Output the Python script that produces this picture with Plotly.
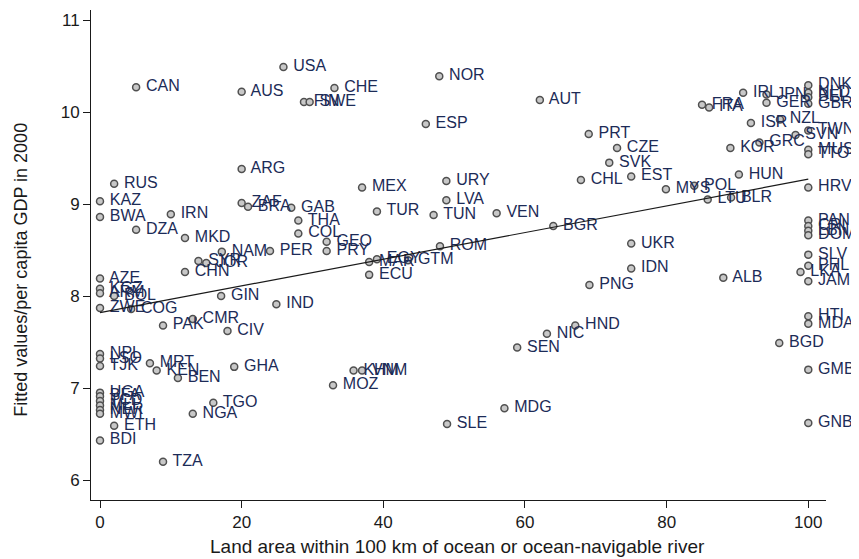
import plotly.graph_objects as go

codes = ["CAN","USA","AUS","CHE","FIN","SWE","NOR","ESP","AUT","ARG","RUS","KAZ","BWA","DZA","IRN","MKD",
         "ZAF","BRA","GAB","THA","COL","GEO","PRY","PER","NAM","SYR","JOR","CHN","MEX","URY","LVA","TUR",
         "TUN","VEN","BGR","ROM","MAR","EGY","GTM","ECU","AZE","KGZ","ARM","BOL","ZWE","COG","GIN","IND",
         "PAK","CMR","CIV","NPL","LSO","TJK","MRT","KEN","BEN","GHA","KHM","VNM","MOZ","TGO","NGA","UGA",
         "BFA","TCD","MLI","NER","MWI","ETH","BDI","TZA","SLE","MDG","SEN","NIC","HND","PNG","IDN","UKR",
         "PRT","CZE","SVK","EST","CHL","MYS","POL","LTU","BLR","HUN","HRV","KOR","GRC","ISR","NZL","SVN",
         "TWN","MUS","TTO","FRA","ITA","IRL","JPN","GER","DNK","NLD","BEL","GBR","PAN","CRI","LBN","DOM",
         "SLV","PHL","LKA","JAM","ALB","HTI","MDA","BGD","GMB","GNB"]

land_area = [5.1,25.9,20.0,33.1,28.8,29.6,47.9,46.0,62.1,20.0,2.0,0,0,5.1,10.0,12.0,
             20.0,20.9,27.0,28.0,28.0,32.0,32.0,24.0,17.2,13.9,15.0,12.0,37.0,48.9,48.9,39.1,
             47.1,56.0,64.0,48.0,38.0,39.1,43.5,38.0,0,0,0,2.0,0,4.4,17.1,24.9,
             8.9,13.1,18.0,0,0,0,7.05,8.0,11.0,18.95,35.8,37.0,32.9,16.0,13.1,0,
             0,0,0,0,0,2.0,0,8.9,49.0,57.1,58.9,63.1,67.1,69.1,75.0,75.0,
             69.0,73.0,71.9,75.0,67.9,79.9,83.9,85.8,89.1,90.2,100,89.0,93.1,91.9,96.0,98.2,
             100,100,100,85.0,86.0,90.8,94.1,94.1,100,100,100,100,100,100,100,100,
             100,100,98.9,100,88.0,100,100,95.9,100,100]

gdp = [10.27,10.49,10.22,10.26,10.11,10.11,10.39,9.87,10.13,9.38,9.22,9.03,8.86,8.72,8.89,8.63,
       9.01,8.97,8.96,8.82,8.68,8.59,8.49,8.49,8.48,8.38,8.36,8.26,9.18,9.25,9.04,8.92,
       8.88,8.90,8.76,8.54,8.37,8.40,8.39,8.23,8.19,8.08,8.03,8.00,7.87,7.86,8.00,7.91,
       7.68,7.75,7.62,7.37,7.32,7.24,7.27,7.19,7.11,7.23,7.19,7.19,7.03,6.84,6.72,6.95,
       6.91,6.86,6.81,6.76,6.72,6.59,6.43,6.20,6.61,6.78,7.44,7.59,7.68,8.12,8.30,8.57,
       9.76,9.61,9.45,9.30,9.26,9.16,9.20,9.05,9.07,9.32,9.18,9.61,9.67,9.88,9.92,9.75,
       9.80,9.59,9.54,10.08,10.05,10.21,10.19,10.10,10.29,10.21,10.16,10.09,8.82,8.76,8.71,8.66,
       8.45,8.33,8.26,8.16,8.20,7.78,7.70,7.49,7.20,6.62]

fit_x = [0, 100]
fit_y = [7.82, 9.27]

x_ticks = [0, 20, 40, 60, 80, 100]
y_ticks = [6, 7, 8, 9, 10, 11]

FONT = "Liberation Sans, Arial, Helvetica, sans-serif"

fig = go.Figure()
fig.add_trace(go.Scatter(
    x=land_area, y=gdp, mode="markers+text", text=[" " + c for c in codes],
    textposition="middle right",
    textfont=dict(family=FONT, size=16, color="#1c2b57"),
    marker=dict(symbol="circle", size=7, color="#c8c8c8",
                line=dict(color="#505050", width=1.5)),
    hoverinfo="text", showlegend=False, cliponaxis=False))
fig.add_trace(go.Scatter(
    x=fit_x, y=fit_y, mode="lines",
    line=dict(color="#1a1a1a", width=1.2), showlegend=False))

fig.update_layout(
    width=851, height=551,
    margin=dict(l=83, r=33, t=2, b=59),
    paper_bgcolor="white", plot_bgcolor="white",
    font=dict(family=FONT, size=16, color="#1a1a1a"),
    annotations=[
        dict(text="Land area within 100 km of ocean or ocean-navigable river",
             xref="paper", yref="paper", x=0.498, y=0.0, yshift=-46,
             xanchor="center", yanchor="middle", showarrow=False,
             font=dict(family=FONT, size=19, color="#1a1a1a")),
        dict(text="Fitted values/per capita GDP in 2000",
             xref="paper", yref="paper", x=0, xshift=-70, y=0.47,
             xanchor="center", yanchor="middle", showarrow=False, textangle=-90,
             font=dict(family=FONT, size=18, color="#1a1a1a")),
    ],
)
fig.update_xaxes(
    range=[-1.27, 102.5], tickvals=x_ticks, ticktext=[str(v) for v in x_ticks],
    showgrid=False, zeroline=False, showline=True, linecolor="#1a1a1a", linewidth=1,
    ticks="outside", ticklen=7, tickcolor="#1a1a1a", tickfont=dict(size=17),
    automargin=False)
fig.update_yaxes(
    range=[5.783, 11.109], tickvals=y_ticks, ticktext=[str(v) for v in y_ticks],
    showgrid=False, zeroline=False, showline=True, linecolor="#1a1a1a", linewidth=1,
    ticks="outside", ticklen=7, tickcolor="#1a1a1a", tickfont=dict(size=17),
    automargin=False)

fig.write_html("out.html")
